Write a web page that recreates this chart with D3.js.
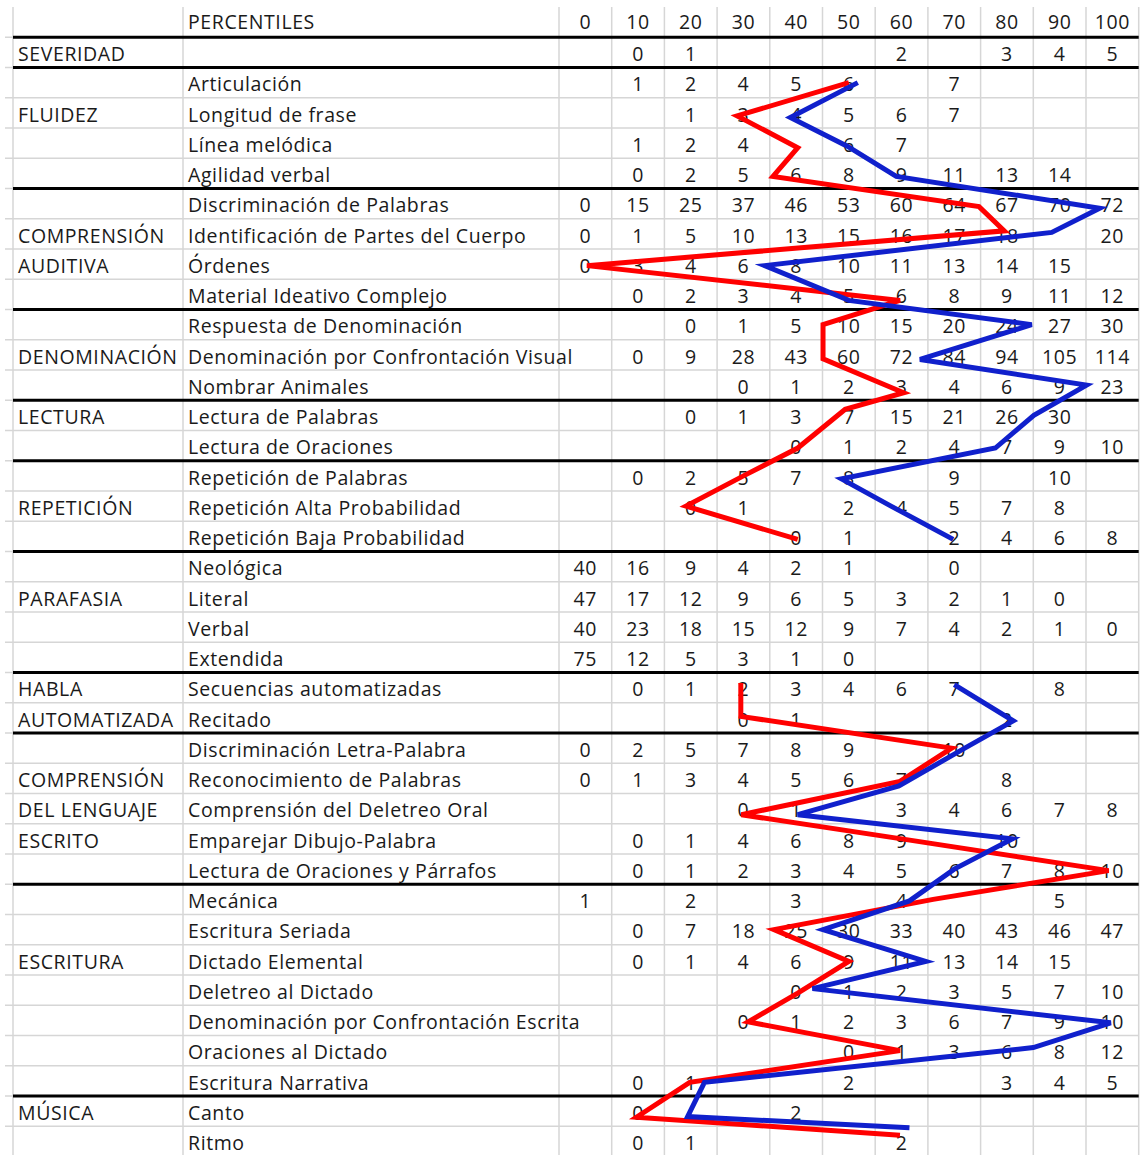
<!DOCTYPE html>
<html>
<head>
<meta charset="utf-8">
<script src="https://cdn.jsdelivr.net/npm/d3@7"></script>
<style>
  body { margin: 0; background: #fff; }
  svg { display: block; }
  text { font-family: 'Open Sans', sans-serif; font-size: 19.5px; fill: #1a1a1a; letter-spacing: 0.6px; }
</style>
</head>
<body>
<div id="chart"></div>
<script>
const _ = null

const percentiles = [0, 10, 20, 30, 40, 50, 60, 70, 80, 90, 100]

const areas = [
  'SEVERIDAD',
  '', 'FLUIDEZ', '', '',
  '', 'COMPRENSIÓN', 'AUDITIVA', '',
  '', 'DENOMINACIÓN', '',
  'LECTURA', '',
  '', 'REPETICIÓN', '',
  '', 'PARAFASIA', '', '',
  'HABLA', 'AUTOMATIZADA',
  '', 'COMPRENSIÓN', 'DEL LENGUAJE', 'ESCRITO', '',
  '', '', 'ESCRITURA', '', '', '', '',
  'MÚSICA', '',
]

// rows per area block, a thick rule closes each block
const groupSizes = [1, 4, 4, 3, 2, 3, 4, 2, 5, 7, 2]

const subtests = [
  '',
  'Articulación', 'Longitud de frase', 'Línea melódica', 'Agilidad verbal',
  'Discriminación de Palabras', 'Identificación de Partes del Cuerpo', 'Órdenes', 'Material Ideativo Complejo',
  'Respuesta de Denominación', 'Denominación por Confrontación Visual', 'Nombrar Animales',
  'Lectura de Palabras', 'Lectura de Oraciones',
  'Repetición de Palabras', 'Repetición Alta Probabilidad', 'Repetición Baja Probabilidad',
  'Neológica', 'Literal', 'Verbal', 'Extendida',
  'Secuencias automatizadas', 'Recitado',
  'Discriminación Letra-Palabra', 'Reconocimiento de Palabras', 'Comprensión del Deletreo Oral',
  'Emparejar Dibujo-Palabra', 'Lectura de Oraciones y Párrafos',
  'Mecánica', 'Escritura Seriada', 'Dictado Elemental', 'Deletreo al Dictado',
  'Denominación por Confrontación Escrita', 'Oraciones al Dictado', 'Escritura Narrativa',
  'Canto', 'Ritmo',
]

const scores = [
  [_, 0, 1, _, _, _, 2, _, 3, 4, 5],
  [_, 1, 2, 4, 5, 6, _, 7, _, _, _],
  [_, _, 1, 3, 4, 5, 6, 7, _, _, _],
  [_, 1, 2, 4, _, 6, 7, _, _, _, _],
  [_, 0, 2, 5, 6, 8, 9, 11, 13, 14, _],
  [0, 15, 25, 37, 46, 53, 60, 64, 67, 70, 72],
  [0, 1, 5, 10, 13, 15, 16, 17, 18, _, 20],
  [0, 3, 4, 6, 8, 10, 11, 13, 14, 15, _],
  [_, 0, 2, 3, 4, 5, 6, 8, 9, 11, 12],
  [_, _, 0, 1, 5, 10, 15, 20, 24, 27, 30],
  [_, 0, 9, 28, 43, 60, 72, 84, 94, 105, 114],
  [_, _, _, 0, 1, 2, 3, 4, 6, 9, 23],
  [_, _, 0, 1, 3, 7, 15, 21, 26, 30, _],
  [_, _, _, _, 0, 1, 2, 4, 7, 9, 10],
  [_, 0, 2, 5, 7, 8, _, 9, _, 10, _],
  [_, _, 0, 1, _, 2, 4, 5, 7, 8, _],
  [_, _, _, _, 0, 1, _, 2, 4, 6, 8],
  [40, 16, 9, 4, 2, 1, _, 0, _, _, _],
  [47, 17, 12, 9, 6, 5, 3, 2, 1, 0, _],
  [40, 23, 18, 15, 12, 9, 7, 4, 2, 1, 0],
  [75, 12, 5, 3, 1, 0, _, _, _, _, _],
  [_, 0, 1, 2, 3, 4, 6, 7, _, 8, _],
  [_, _, _, 0, 1, _, _, _, 2, _, _],
  [0, 2, 5, 7, 8, 9, _, 10, _, _, _],
  [0, 1, 3, 4, 5, 6, 7, _, 8, _, _],
  [_, _, _, 0, 1, _, 3, 4, 6, 7, 8],
  [_, 0, 1, 4, 6, 8, 9, _, 10, _, _],
  [_, 0, 1, 2, 3, 4, 5, 6, 7, 8, 10],
  [1, _, 2, _, 3, _, 4, _, _, 5, _],
  [_, 0, 7, 18, 25, 30, 33, 40, 43, 46, 47],
  [_, 0, 1, 4, 6, 9, 11, 13, 14, 15, _],
  [_, _, _, _, 0, 1, 2, 3, 5, 7, 10],
  [_, _, _, 0, 1, 2, 3, 6, 7, 9, 10],
  [_, _, _, _, _, 0, 1, 3, 6, 8, 12],
  [_, 0, 1, _, _, 2, _, _, 3, 4, 5],
  [_, 0, _, _, 2, _, _, _, _, _, _],
  [_, 0, 1, _, _, _, 2, _, _, _, _],
]

// profile lines: percentile reached per subtest, and where the stroke sits inside the row
const redProfile = [
  _, 50, 28.8, 40.3, 35.6, 74.7, 79.5, 0.3, 59.7, 45.1, 45.1, 60.4, 49.3, 40.3, 30, 19.1, 40.3,
  _, _, _, _, 29.5, 29.5, 69.5, 59.7, 29.6, 60, 99.3, 66, 35.8, 50, 40.3, 30.9, 59.7, 19.8, 9.7, 59.7,
]
const redShift = [
  _, 0, 0.1, 0.15, 0.1, 0.1, -0.1, 0.05, 0.2, 0, 0.13, 0.25, -0.2, 0.08, 0, 0, 0.1,
  _, _, _, _, -0.15, -0.05, 0, 0.1, 0.2, 0, 0.05, 0, 0, 0.05, 0.1, 0.05, 0, 0.05, 0.2, -0.2,
]
const blueProfile = [
  _, 51.7, 38.9, 49.7, 59, 97.6, 88.5, 34, 50, 84.7, 63.5, 95.1, 85.1, 77.8, 48.6, 58, 69.8,
  _, _, _, _, 70, 81.2, 72, 59.5, 40.3, 81, 70, 61.5, 45.1, 64.6, 43.1, 99.7, 85, 22.6, 19.4, 61.5,
]
const blueShift = [
  _, 0, 0.15, 0.1, 0.1, 0.15, -0.05, 0.05, 0.2, 0, 0.15, 0, 0, 0.08, 0.1, 0, 0.1,
  _, _, _, _, -0.1, 0.1, 0, 0.25, 0.2, 0, 0, 0.05, 0, 0.05, -0.05, 0.08, -0.1, 0.05, 0.18, -0.45,
]

const W = 1144
const H = 1155
const COLORS = { grid: '#d6d6d6', rule: '#000', red: '#ff0000', blue: '#1020cc' }

const svg = d3.select('#chart').append('svg').attr('width', W).attr('height', H)

// Scales

const x = d3.scaleBand().domain(percentiles).range([559, 559 + 11 * 52.7])
const xLine = d3.scaleLinear().domain([0, 100]).range([x(0) + x.bandwidth() / 2, x(100) + x.bandwidth() / 2])
const y = d3.scaleBand().domain(d3.range(subtests.length + 1)).range([7, 7 + (subtests.length + 1) * 30.25])
const rowH = y.bandwidth()
const left = 13
const split = 183
const right = x.range()[1]

// Grid

const grid = svg.append('g')

grid.selectAll('line.h')
  .data(d3.range(1, subtests.length + 2))
  .join('line')
  .attr('x1', 5).attr('x2', right)
  .attr('y1', (d) => y(0) + d * rowH).attr('y2', (d) => y(0) + d * rowH)
  .attr('stroke', COLORS.grid)
  .attr('stroke-width', 1.5)

grid.selectAll('line.v')
  .data([left, split, ...percentiles.map((p) => x(p)), right])
  .join('line')
  .attr('x1', (d) => d).attr('x2', (d) => d)
  .attr('y1', y(0)).attr('y2', H)
  .attr('stroke', COLORS.grid)
  .attr('stroke-width', 1.5)

const breaks = [1, ...d3.cumsum(groupSizes).map((s) => s + 1)]

svg.append('g').selectAll('line')
  .data(breaks)
  .join('line')
  .attr('x1', left).attr('x2', right)
  .attr('y1', (d) => y(0) + d * rowH).attr('y2', (d) => y(0) + d * rowH)
  .attr('stroke', COLORS.rule)
  .attr('stroke-width', 3)

// Texts

const base = (row) => y(row) + rowH - (row === 0 ? 8.5 : 6.5)

const head = svg.append('g')
head.append('text').attr('x', split + 5).attr('y', base(0)).text('PERCENTILES')
head.selectAll('text.p')
  .data(percentiles)
  .join('text')
  .attr('x', (d) => x(d) + x.bandwidth() / 2)
  .attr('y', base(0))
  .attr('text-anchor', 'middle')
  .text((d) => d)

const rows = svg.append('g').selectAll('g')
  .data(subtests.map((name, i) => ({ name, area: areas[i], cells: scores[i], row: i + 1 })))
  .join('g')

rows.append('text').attr('x', left + 5).attr('y', (d) => base(d.row)).text((d) => d.area)
rows.append('text').attr('x', split + 5).attr('y', (d) => base(d.row)).text((d) => d.name)

rows.selectAll('text.cell')
  .data((d) => d.cells.map((v, j) => ({ v, p: percentiles[j], row: d.row })).filter((c) => c.v !== null))
  .join('text')
  .attr('x', (c) => x(c.p) + x.bandwidth() / 2)
  .attr('y', (c) => base(c.row))
  .attr('text-anchor', 'middle')
  .text((c) => c.v)

// Profile lines

const line = d3.line()
  .defined((d) => d.p !== null)
  .x((d) => xLine(d.p))
  .y((d) => y(d.row) + rowH / 2 + d.shift * rowH)

function profile(values, shifts, color) {
  svg.append('path')
    .datum(values.map((p, i) => ({ p, shift: shifts[i], row: i + 1 })))
    .attr('d', line)
    .attr('fill', 'none')
    .attr('stroke', color)
    .attr('stroke-width', 5)
    .attr('stroke-linejoin', 'miter')
}

profile(redProfile, redShift, COLORS.red)
profile(blueProfile, blueShift, COLORS.blue)
</script>
</body>
</html>
